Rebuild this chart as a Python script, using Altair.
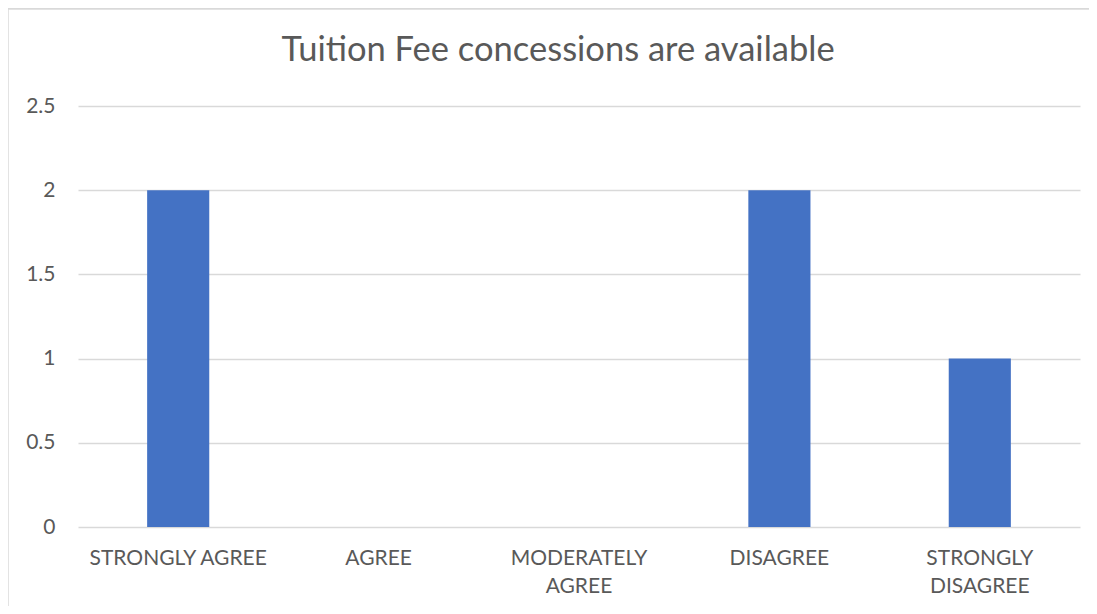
import altair as alt
import pandas as pd

categories = ["STRONGLY AGREE", "AGREE", "MODERATELY AGREE", "DISAGREE", "STRONGLY DISAGREE"]
counts = [2, 0, 0, 2, 1]
y_ticks = [0, 0.5, 1, 1.5, 2, 2.5]
title_text = "Tuition Fee concessions are available"

df = pd.DataFrame({"category": categories, "count": counts})

FONT = "Lato"
TXT = "#595959"
GRID = "#d9d9d9"

bars = alt.Chart(df).mark_bar(color="#4472C4").encode(
    x=alt.X(
        "category:N",
        sort=categories,
        scale=alt.Scale(paddingInner=0.69, paddingOuter=0.345),
        axis=alt.Axis(
            title=None,
            labelAngle=0,
            ticks=False,
            domain=False,
            grid=False,
            labelPadding=20,
            labelFontSize=21,
            labelFont=FONT,
            labelColor=TXT,
            labelLineHeight=28,
            labelBaseline="top",
            labelExpr="length(datum.value) > 15 ? split(datum.value, ' ') : datum.value",
        ),
    ),
    y=alt.Y(
        "count:Q",
        scale=alt.Scale(domain=[0, 2.5], nice=False),
        axis=alt.Axis(
            title=None,
            values=y_ticks,
            format="~f",
            ticks=False,
            domain=False,
            labelPadding=23,
            labelFontSize=21,
            labelFont=FONT,
            labelColor=TXT,
            gridColor=GRID,
            gridWidth=1.5,
        ),
    ),
)

frame_top = alt.Chart(df).mark_rule(stroke=GRID, strokeWidth=1.5).encode(
    x=alt.value(-70.5),
    x2=alt.value(1200),
    y=alt.value(-97.5),
)
frame_left = alt.Chart(df).mark_rule(stroke=GRID, strokeWidth=1.5).encode(
    x=alt.value(-70.5),
    y=alt.value(-97.5),
    y2=alt.value(700),
)

chart = (
    alt.layer(frame_top, frame_left, bars)
    .properties(
        width=1002,
        height=421,
        background="white",
        title=alt.TitleParams(
            text=title_text,
            font=FONT,
            fontSize=34.5,
            fontWeight="normal",
            color=TXT,
            anchor="middle",
            frame="group",
            baseline="alphabetic",
            offset=0,
            dy=88,
            dx=-21,
        ),
        autosize=alt.AutoSizeParams(type="none"),
        padding={"left": 70, "top": 98, "right": 9, "bottom": 79},
    )
    .configure_view(stroke="transparent", strokeWidth=0)
)

chart.save("out.html", embed_options={"renderer": "svg", "actions": False})
